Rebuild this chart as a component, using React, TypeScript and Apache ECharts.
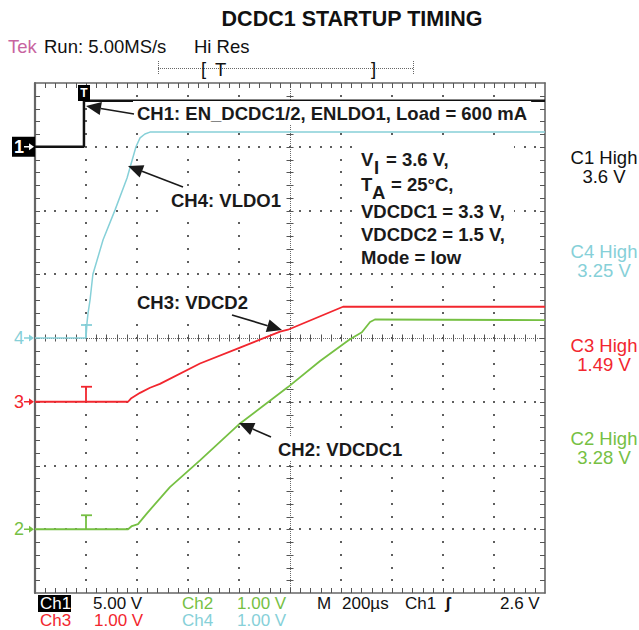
import React, { useEffect, useRef } from "react";
import * as echarts from "echarts";

// ---- axes (scope screen): time in µs, vertical in divisions ----
const TIME_MIN = -200;
const TIME_MAX = 1800;
const TIME_DIV = 200;
const DIV_MIN = -4;
const DIV_MAX = 4;
const MINOR_PER_DIV = 5;

// ---- channel settings ----
const channelNames = ["CH1", "CH4", "CH3", "CH2"];
const channelScales = [5, 1, 1, 1]; // V/div
const channelOffsets = [3, 0, -1, -3]; // ground position in divisions
const channelColors = ["#111111", "#86d0d8", "#f2262e", "#76c043"];
const channelWidths = [2.5, 1.5, 1.8, 1.8];

// ---- traces (time µs, volts) ----
const ch1Time = [-200, -8, -8, 1800];
const ch1Volts = [0, 0, 3.6, 3.6];

const ch4Time = [-200, 0, 4, 8, 16, 27, 67, 114, 161, 196, 212, 231, 251, 1800];
const ch4Volts = [0, 0, 0.24, 0.39, 0.6, 1.0, 1.54, 2.01, 2.51, 3.0, 3.14, 3.2, 3.23, 3.23];

const ch3Time = [-200, 165, 176, 212, 251, 290, 447, 604, 761, 792, 996, 1008, 1800];
const ch3Volts = [0, 0, 0.05, 0.14, 0.22, 0.28, 0.6, 0.85, 1.1, 1.13, 1.47, 1.49, 1.49];

const ch2Time = [-200, 165, 180, 204, 239, 329, 447, 604, 792, 918, 1035, 1082, 1114, 1133, 1800];
const ch2Volts = [0, 0, 0.05, 0.08, 0.25, 0.66, 1.08, 1.66, 2.23, 2.64, 2.98, 3.09, 3.25, 3.29, 3.28];

const channelTimes = [ch1Time, ch4Time, ch3Time, ch2Time];
const channelVolts = [ch1Volts, ch4Volts, ch3Volts, ch2Volts];

// ---- texts ----
const titleText = "DCDC1 STARTUP TIMING";
const highLabels = ["C1 High", "C4 High", "C3 High", "C2 High"];
const highValues = ["3.6 V", "3.25 V", "1.49 V", "3.28 V"];
const highColors = ["#111111", "#86d0d8", "#f2262e", "#76c043"];
const conditionLines = ["VDCDC1 = 3.3 V,", "VDCDC2 = 1.5 V,", "Mode = low"];

// ---- layout ----
const GRID = { left: 35, top: 83, width: 510, height: 510 };
const px = (t: number) => GRID.left + ((t - TIME_MIN) / (TIME_MAX - TIME_MIN)) * GRID.width;
const py = (d: number) => GRID.top + ((DIV_MAX - d) / (DIV_MAX - DIV_MIN)) * GRID.height;

const FAMILY = '"Liberation Sans", Arial, sans-serif';
const BOLD = `bold 18.5px ${FAMILY}`;
const SCOPE = `18.5px ${FAMILY}`;
const FOOT = `17px ${FAMILY}`;
const INK = "#1a1a1a";

function txt(text: string, x: number, y: number, font: string, fill: string, align = "left", extra: any = {}) {
  return {
    type: "text",
    z: 100,
    style: {
      text,
      x,
      y,
      font,
      fill,
      align,
      verticalAlign: "middle",
      textAlign: align,
      textVerticalAlign: "middle",
      ...extra,
    },
  };
}

// pixel-snapped small tick segment (1px wide)
function tickV(x: number, y1: number, y2: number, color: string) {
  const xs = Math.round(x) + 0.5;
  return { type: "line", z: 5, shape: { x1: xs, y1, x2: xs, y2 }, style: { stroke: color, lineWidth: 1 } };
}
function tickH(y: number, x1: number, x2: number, color: string) {
  const ys = Math.round(y) + 0.5;
  return { type: "line", z: 5, shape: { x1, y1: ys, x2, y2: ys }, style: { stroke: color, lineWidth: 1 } };
}
function dot(x: number, y: number, color: string) {
  return { type: "rect", z: 5, shape: { x: Math.round(x) - 1, y: Math.round(y) - 1, width: 2, height: 2 }, style: { fill: color } };
}

function arrow(x1: number, y1: number, x2: number, y2: number, color = INK) {
  const dx = x2 - x1;
  const dy = y2 - y1;
  const len = Math.sqrt(dx * dx + dy * dy);
  const ux = dx / len;
  const uy = dy / len;
  const L = 15;
  const W = 6.5;
  const bx = x2 - ux * L;
  const by = y2 - uy * L;
  return [
    { type: "line", z: 101, shape: { x1, y1, x2: bx, y2: by }, style: { stroke: color, lineWidth: 1.6 } },
    {
      type: "polygon",
      z: 101,
      shape: { points: [[x2, y2], [bx - uy * W, by + ux * W], [bx + uy * W, by - ux * W]] },
      style: { fill: color },
    },
  ];
}

function chMarker(label: string, d: number, color: string, boxed: boolean) {
  const y = py(d);
  const els: any[] = [];
  if (boxed) {
    els.push({ type: "rect", z: 99, shape: { x: 12, y: y - 10, width: 23, height: 20 }, style: { fill: "#000" } });
  }
  const c = boxed ? "#fff" : color;
  els.push(txt(label, 14, y, `${boxed ? "bold " : ""}18px ${FAMILY}`, c));
  els.push({ type: "line", z: 101, shape: { x1: 24, y1: y, x2: 31, y2: y }, style: { stroke: c, lineWidth: 1.5 } });
  els.push({ type: "polygon", z: 101, shape: { points: [[29, y - 3.5], [34, y], [29, y + 3.5]] }, style: { fill: c } });
  return els;
}

function trigMark(d: number, color: string, h: number) {
  const x = px(0);
  const y = py(d);
  return [
    { type: "line", z: 50, shape: { x1: x, y1: y, x2: x, y2: y - h }, style: { stroke: color, lineWidth: 1.8 } },
    { type: "line", z: 50, shape: { x1: x - 5, y1: y - h, x2: x + 6, y2: y - h }, style: { stroke: color, lineWidth: 1.8 } },
  ];
}

function gridDecor() {
  const g: any[] = [];
  const L = GRID.left;
  const R = GRID.left + GRID.width;
  const T = GRID.top;
  const B = GRID.top + GRID.height;
  const nx = (TIME_MAX - TIME_MIN) / TIME_DIV;
  const ny = DIV_MAX - DIV_MIN;
  const stepX = GRID.width / nx / MINOR_PER_DIV;
  const stepY = GRID.height / ny / MINOR_PER_DIV;
  const dotColor = "#5e5e5e";
  const tickColor = "#555555";
  const cx = px((TIME_MIN + TIME_MAX) / 2);
  const cy = py((DIV_MIN + DIV_MAX) / 2);
  // dotted division columns
  for (let k = 1; k < nx; k++) {
    if (k === nx / 2) continue;
    const x = px(TIME_MIN + k * TIME_DIV);
    for (let j = 1; j < ny * MINOR_PER_DIV; j++) g.push(dot(x, T + j * stepY, dotColor));
  }
  // dotted division rows
  for (let d = DIV_MIN + 1; d < DIV_MAX; d++) {
    if (d === 0) continue;
    const y = py(d);
    for (let j = 1; j < nx * MINOR_PER_DIV; j++) g.push(dot(L + j * stepX, y, dotColor));
  }
  // centre cross-hair: fine dotted line plus minor tick marks
  const cys = Math.round(cy) + 0.5;
  const cxs = Math.round(cx) + 0.5;
  g.push({ type: "line", z: 4, shape: { x1: L, y1: cys, x2: R, y2: cys }, style: { stroke: "#6a6a6a", lineWidth: 1, lineDash: [1, 1] } });
  g.push({ type: "line", z: 4, shape: { x1: cxs, y1: T, x2: cxs, y2: B }, style: { stroke: "#6a6a6a", lineWidth: 1, lineDash: [1, 1] } });
  for (let j = 1; j < nx * MINOR_PER_DIV; j++) {
    const x = L + j * stepX;
    g.push(tickV(x, cy - 3.5, cy + 3.5, tickColor));
    g.push(tickV(x, B, B - 5, tickColor));
    g.push(tickV(x, T, T + 5, tickColor));
  }
  for (let j = 1; j < ny * MINOR_PER_DIV; j++) {
    const y = T + j * stepY;
    g.push(tickH(y, cx - 3.5, cx + 3.5, tickColor));
    g.push(tickH(y, L, L + 5, tickColor));
    g.push(tickH(y, R, R - 5, tickColor));
  }
  return g;
}

function buildOption() {
  const series = channelNames.map((name, i) => ({
    name,
    type: "line",
    xAxisIndex: 0,
    yAxisIndex: 0,
    showSymbol: false,
    symbol: "none",
    lineStyle: { color: channelColors[i], width: channelWidths[i] },
    itemStyle: { color: channelColors[i] },
    z: i === 0 ? 10 : 11,
    data: channelTimes[i].map((t, k) => [t, channelOffsets[i] + channelVolts[i][k] / channelScales[i]]),
  }));

  const borderColor = "#666666";
  const off = { show: false };
  const axisCommon = { axisLabel: off, axisTick: off, minorTick: off, splitLine: off };

  const xAxis: any[] = [
    {
      type: "value", min: TIME_MIN, max: TIME_MAX, interval: TIME_DIV, position: "bottom", ...axisCommon,
      axisLine: { show: true, onZero: false, lineStyle: { color: borderColor, width: 1.6 } },
    },
    {
      type: "value", min: TIME_MIN, max: TIME_MAX, interval: TIME_DIV, position: "top", ...axisCommon,
      axisLine: { show: true, onZero: false, lineStyle: { color: borderColor, width: 1.6 } },
    },
  ];
  const yAxis: any[] = [
    {
      type: "value", min: DIV_MIN, max: DIV_MAX, interval: 1, position: "left", ...axisCommon,
      axisLine: { show: true, onZero: false, lineStyle: { color: borderColor, width: 2.2 } },
    },
    {
      type: "value", min: DIV_MIN, max: DIV_MAX, interval: 1, position: "right", ...axisCommon,
      axisLine: { show: true, onZero: false, lineStyle: { color: borderColor, width: 1.6 } },
    },
  ];

  const g: any[] = gridDecor();
  // title and top status line
  g.push(txt(titleText, 352, 19, `bold 21.5px ${FAMILY}`, "#111", "center"));
  g.push(txt("Tek", 8, 46, SCOPE, "#c8649f"));
  g.push(txt("Run: 5.00MS/s", 44, 46, SCOPE, "#111"));
  g.push(txt("Hi Res", 194, 46, SCOPE, "#111"));
  // record bracket
  g.push({ type: "line", z: 100, shape: { x1: 158, y1: 68.5, x2: 413, y2: 68.5 }, style: { stroke: "#666", lineWidth: 1, lineDash: [1, 1] } });
  g.push({ type: "line", z: 100, shape: { x1: 158.5, y1: 61, x2: 158.5, y2: 75 }, style: { stroke: "#666", lineWidth: 1, lineDash: [1, 1] } });
  g.push({ type: "line", z: 100, shape: { x1: 413.5, y1: 61, x2: 413.5, y2: 75 }, style: { stroke: "#666", lineWidth: 1, lineDash: [1, 1] } });
  g.push(txt("[", 201, 68, SCOPE, "#111"));
  g.push(txt("T", 215, 69, SCOPE, "#111"));
  g.push(txt("]", 371, 68, SCOPE, "#111"));

  // trigger T marker at top
  g.push({ type: "rect", z: 100, shape: { x: px(0) - 8, y: 85, width: 12, height: 16 }, style: { fill: "#000" } });
  g.push(txt("T", px(0) - 2, 93, `bold 12px ${FAMILY}`, "#fff", "center"));

  // channel ground markers
  g.push(...chMarker("1", channelOffsets[0], channelColors[0], true));
  g.push(...chMarker("4", channelOffsets[1], channelColors[1], false));
  g.push(...chMarker("3", channelOffsets[2], channelColors[2], false));
  g.push(...chMarker("2", channelOffsets[3], channelColors[3], false));

  // trigger cursor marks on traces
  g.push(...trigMark(channelOffsets[1], channelColors[1], 13));
  g.push(...trigMark(channelOffsets[2], channelColors[2], 15));
  g.push(...trigMark(channelOffsets[3], channelColors[3], 14));

  // right "High" readouts
  const highY = [157, 251, 345, 438];
  highLabels.forEach((l, i) => {
    g.push(txt(l, 604, highY[i], SCOPE, highColors[i], "center"));
    g.push(txt(highValues[i], 604, highY[i] + 19, SCOPE, highColors[i], "center"));
  });

  // bottom readouts
  const r1 = 603;
  const r2 = 620.5;
  const lh = { lineHeight: 17 };
  g.push({ type: "rect", z: 99, shape: { x: 38, y: 595, width: 33, height: 17 }, style: { fill: "#000" } });
  g.push(txt("Ch1", 40, r1, FOOT, "#fff", "left", lh));
  g.push(txt("5.00 V", 93, r1, FOOT, "#111", "left", lh));
  g.push(txt("Ch2", 182, r1, FOOT, channelColors[3], "left", lh));
  g.push(txt("1.00 V", 237, r1, FOOT, channelColors[3], "left", lh));
  g.push(txt("M", 317, r1, FOOT, "#111", "left", lh));
  g.push(txt("200µs", 342, r1, FOOT, "#111", "left", lh));
  g.push(txt("Ch1", 405, r1, FOOT, "#111", "left", lh));
  g.push(txt("ʃ", 445, r1, `bold 17px ${FAMILY}`, "#111", "left", lh));
  g.push(txt("2.6 V", 500, r1, FOOT, "#111", "left", lh));
  g.push(txt("Ch3", 40, r2, FOOT, channelColors[2], "left", lh));
  g.push(txt("1.00 V", 94, r2, FOOT, channelColors[2], "left", lh));
  g.push(txt("Ch4", 182, r2, FOOT, channelColors[1], "left", lh));
  g.push(txt("1.00 V", 237, r2, FOOT, channelColors[1], "left", lh));

  // annotations
  const bg = { backgroundColor: "#ffffff", padding: [3, 4, 2, 4] };
  g.push(txt("CH1: EN_DCDC1/2, ENLDO1, Load = 600 mA", 133, 113, BOLD, INK, "left", bg));
  g.push(...arrow(134, 114, 86, 106));
  g.push(txt("CH4: VLDO1", 167, 200, BOLD, INK, "left", bg));
  g.push(...arrow(183, 187, 128, 166));
  g.push(txt("CH3: VDCD2", 252, 302, BOLD, INK, "right", bg));
  g.push(...arrow(232, 315, 282, 330));
  g.push(txt("CH2: VDCDC1", 274, 449, BOLD, INK, "left", bg));
  g.push(...arrow(271, 437, 239, 423));

  // conditions block
  g.push({ type: "rect", z: 99, shape: { x: 354, y: 145, width: 160, height: 124 }, style: { fill: "#fff" } });
  g.push(txt("V", 361, 159, BOLD, INK));
  g.push(txt("I", 374, 167, BOLD, INK));
  g.push(txt("= 3.6 V,", 386, 159, BOLD, INK));
  g.push(txt("T", 361, 184, BOLD, INK));
  g.push(txt("A", 372, 192, BOLD, INK));
  g.push(txt("= 25°C,", 391, 184, BOLD, INK));
  conditionLines.forEach((l, i) => g.push(txt(l, 361, 211 + i * 23, BOLD, INK)));

  return {
    animation: false,
    backgroundColor: "#ffffff",
    grid: { left: GRID.left, top: GRID.top, width: GRID.width, height: GRID.height },
    xAxis,
    yAxis,
    series,
    graphic: { elements: g },
  };
}

export default function App() {
  const ref = useRef<HTMLDivElement>(null);
  useEffect(() => {
    if (!ref.current) return;
    const chart = echarts.init(ref.current, undefined, { renderer: "svg" });
    chart.setOption(buildOption() as any);
    return () => chart.dispose();
  }, []);
  return (
    <div
      ref={ref}
      style={{ position: "fixed", left: 0, top: 0, width: 639, height: 630, background: "#fff" }}
    />
  );
}
